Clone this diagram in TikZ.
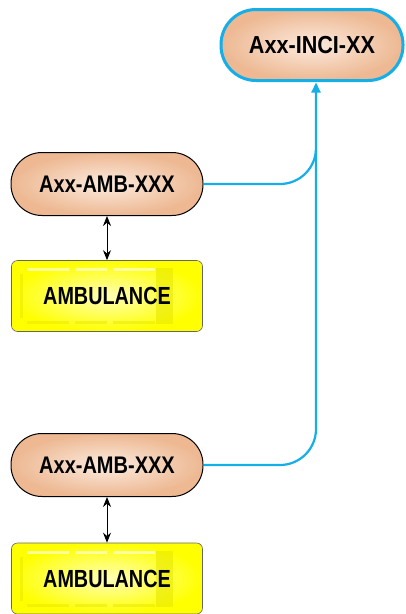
\documentclass[tikz,border=0pt]{standalone}
\usepackage{fontspec}
\usepackage{graphicx}
\setmainfont{Liberation Sans}
\usetikzlibrary{arrows.meta}
\definecolor{peachout}{HTML}{EDB892}
\definecolor{peachin}{HTML}{FCEBDF}
\definecolor{linkblue}{HTML}{14AEE8}
\definecolor{ambyel}{HTML}{FFFF00}
\definecolor{ambin}{HTML}{FFFFB8}
\definecolor{ambdark}{HTML}{E8E800}
\newcommand{\tallabel}[3]{\scalebox{1}[#2]{\fontsize{#1}{#1}\selectfont\bfseries #3}}
\tikzset{
  idnode/.style={draw=black, line width=1pt, rounded corners=31pt, minimum width=192pt, minimum height=63pt,
    inner color=peachin, outer color=peachout, text=black},
  incinode/.style={idnode, draw=linkblue, line width=3pt, rounded corners=35pt, minimum width=182pt, minimum height=71pt},
  ambbox/.style={draw=black!60, line width=0.6pt, rounded corners=6pt, minimum width=191pt, minimum height=71pt,
    inner color=ambin, outer color=ambyel, text=black},
  link/.style={draw=linkblue, line width=2.2pt, rounded corners=36pt},
  dbl/.style={draw=black, line width=0.9pt, {Stealth[length=10pt,width=8pt]}-{Stealth[length=10pt,width=8pt]}},
  panel/.style={fill=ambdark, opacity=0.6, draw=none}
}
\begin{document}
\begin{tikzpicture}[x=1pt,y=-1pt]
\useasboundingbox (0,0) rectangle (406,614);
% nodes
\node[incinode] (inci) at (312,45) {\tallabel{21.6}{1.14}{Axx-INCI-XX}};
\node[idnode] (amb1) at (107,184) {\tallabel{20}{1.2}{Axx-AMB-XXX}};
\node[idnode] (amb2) at (107,465) {\tallabel{20}{1.2}{Axx-AMB-XXX}};
\node[ambbox] (car1) at (107,296) {};
\node[ambbox] (car2) at (107,578.5) {};
% ambulance panel details
\foreach \c in {car1,car2}{
  \begin{scope}[shift={(\c.center)}]
    \fill[panel] (49,-28) rectangle (66,28);
    \fill[ambin, opacity=0.8] (-80,-28) rectangle (-38,-25);
    \fill[ambin, opacity=0.8] (-32,-28) rectangle (0,-25);
    \fill[ambin, opacity=0.8] (6,-28) rectangle (48,-25);
    \fill[ambdark, opacity=0.5] (-80,25) rectangle (-38,28);
    \fill[ambdark, opacity=0.5] (-32,25) rectangle (0,28);
    \fill[ambdark, opacity=0.5] (6,25) rectangle (48,28);
    \fill[ambdark, opacity=0.5] (-87,-22) rectangle (-84,22);
  \end{scope}
}
\node (car1t) at (car1.center) {\tallabel{19.8}{1.25}{AMBULANCE}};
\node (car2t) at (car2.center) {\tallabel{19.8}{1.25}{AMBULANCE}};
% connectors
\draw[dbl] (amb1.south) -- (car1.north);
\draw[dbl] (amb2.south) -- (car2.north);
\draw[link] (amb2.east) -| (316,150);
\draw[link, -{Triangle[length=10pt,width=9pt]}] (amb1.east) -| (316,82.5);
\end{tikzpicture}
\end{document}
